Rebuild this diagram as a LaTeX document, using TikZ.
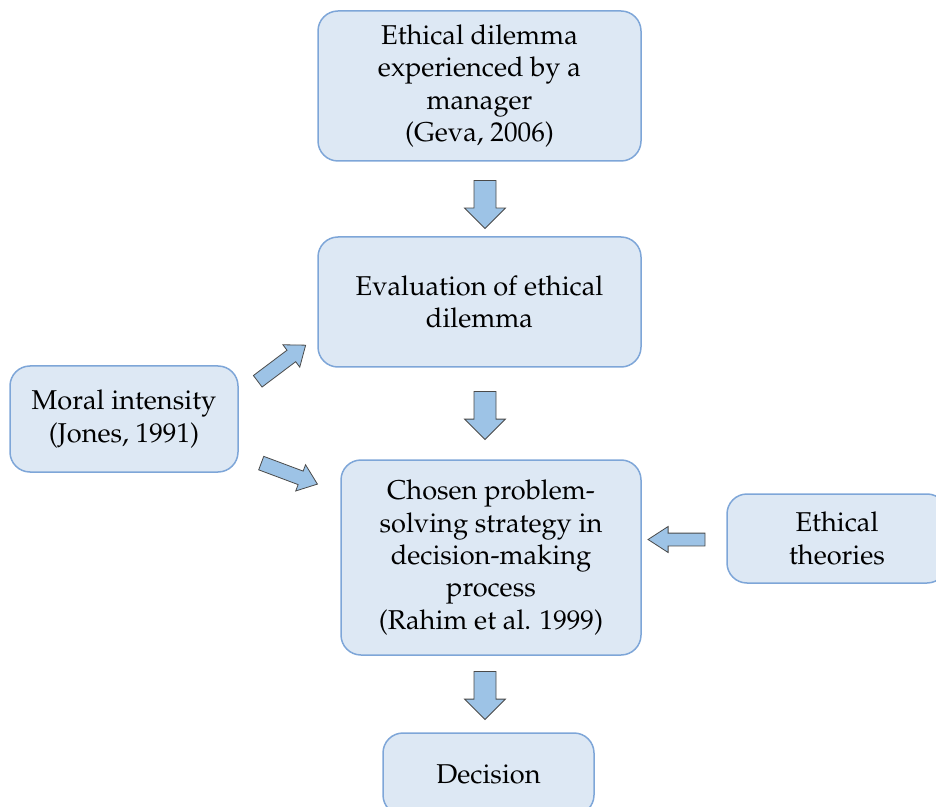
\documentclass[tikz,border=0pt]{standalone}
\usepackage[T1]{fontenc}
\renewcommand{\rmdefault}{ppl}
\usepackage{xcolor}
\usepackage{tikz}
\usetikzlibrary{shapes.arrows}
\definecolor{boxfill}{HTML}{DDE8F4}
\definecolor{boxline}{HTML}{7EA6D8}
\definecolor{arrfill}{HTML}{9DC3E6}
\definecolor{arrline}{HTML}{4A4A4A}

\tikzset{
  stage/.style={draw=boxline,fill=boxfill,line width=0.75pt,rounded corners=10pt,
    align=center,font=\fontsize{13.6}{16.2}\selectfont,inner sep=2pt},
  fatdown/.style={single arrow,draw=arrline,fill=arrfill,line width=0.4pt,
    inner sep=5.3pt,single arrow head extend=4.7pt,single arrow tip angle=90,
    minimum height=24pt,rotate=-90},
  fatside/.style={single arrow,draw=arrline,fill=arrfill,line width=0.4pt,
    inner sep=3.4pt,single arrow head extend=3.4pt,single arrow tip angle=76,
    minimum height=30pt}
}

\begin{document}
\begin{tikzpicture}[x=0.5pt,y=-0.5pt]
  \useasboundingbox (0,0) rectangle (936,807);
  \node[stage,minimum width=161.5pt,minimum height=75pt] (dilemma) at (479.5,86)
    {Ethical dilemma\\experienced by a\\manager\\(Geva, 2006)};
  \node[stage,minimum width=161.5pt,minimum height=65pt] (evaluation) at (479.5,302)
    {Evaluation of ethical\\dilemma};
  \node[stage,minimum width=114pt,minimum height=53pt] (moral) at (124,419)
    {Moral intensity\\(Jones, 1991)};
  \node[stage,minimum width=150pt,minimum height=97.5pt] (strategy) at (491,557.5)
    {Chosen problem-\\solving strategy in\\decision-making\\process\\(Rahim et al. 1999)};
  \node[stage,minimum width=110pt,minimum height=44.5pt] (theories) at (837,538.5)
    {Ethical\\theories};
  \node[stage,minimum width=105.5pt,minimum height=41pt] (decision) at (488.5,774)
    {Decision};

  % block arrows between the stages
  \node[fatdown] (a1) at (485,199) {};
  \node[fatdown] (a2) at (485,410) {};
  \node[fatdown] (a3) at (485,690) {};
  \node[fatside,rotate=37] (a4) at (278,366) {};
  \node[fatside,rotate=-20.5] (a5) at (285,472) {};
  \node[fatside,minimum height=28.5pt,inner sep=3pt,single arrow head extend=3.3pt,
    single arrow tip angle=66,rotate=180] (a6) at (681.5,539.5) {};
\end{tikzpicture}
\end{document}
